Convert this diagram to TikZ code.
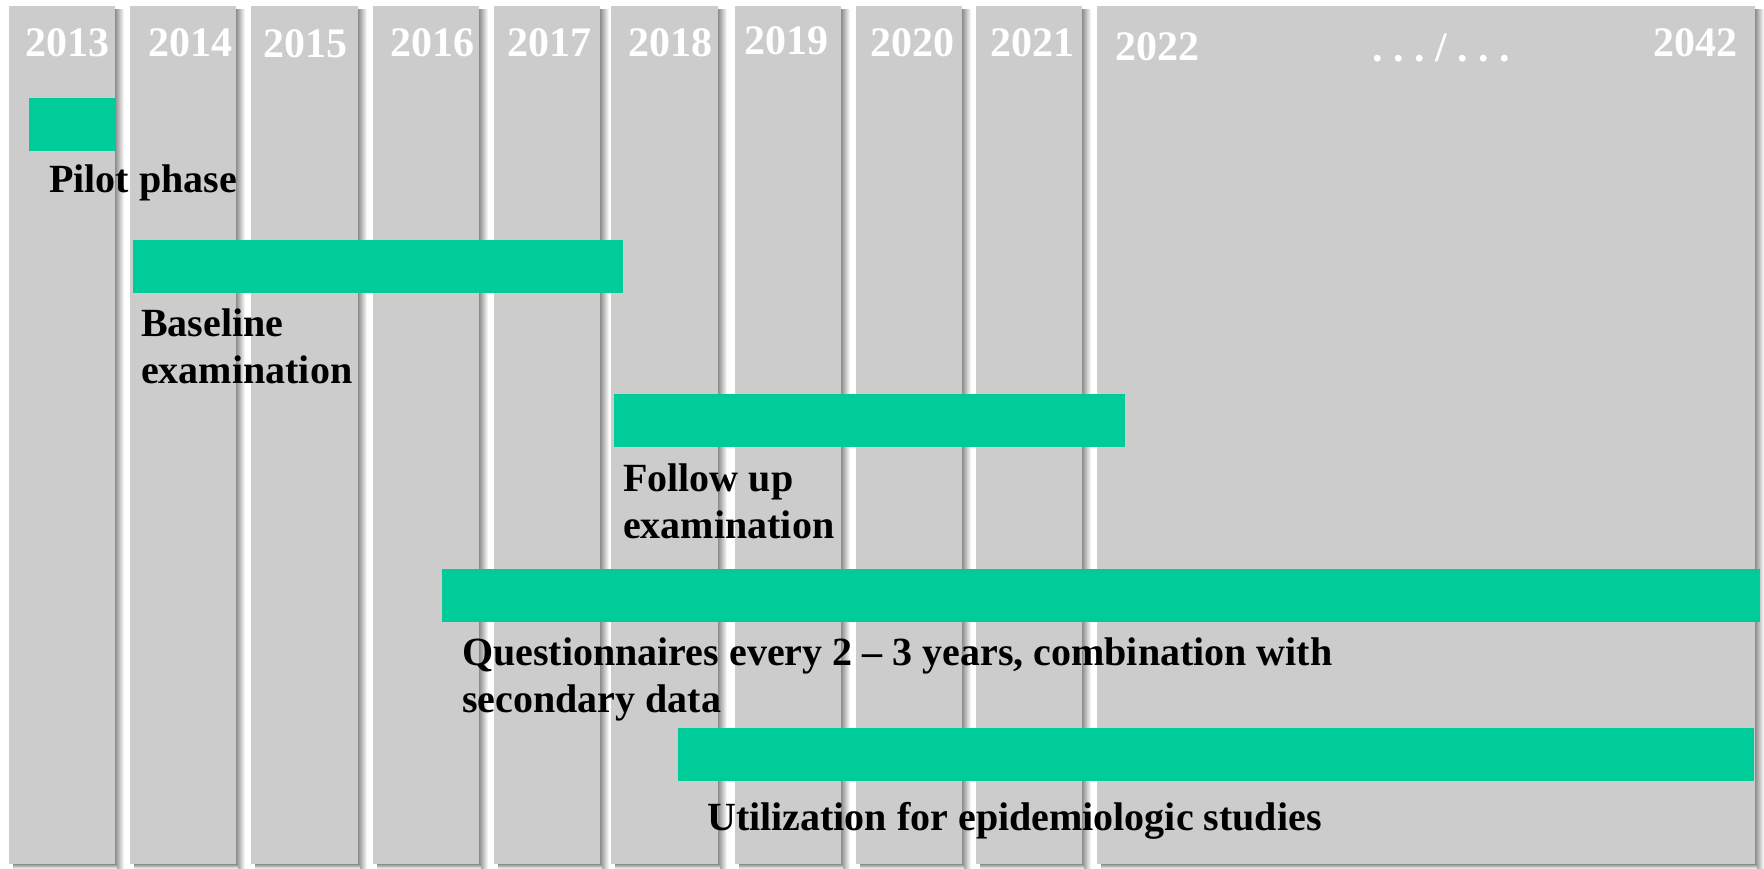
\documentclass[tikz,border=0pt]{standalone}
\usepackage{fontspec}
\setmainfont{Liberation Serif}
\definecolor{colgray}{HTML}{CCCCCC}
\definecolor{shadegray}{HTML}{8C8C8C}
\definecolor{bargreen}{HTML}{00CC99}

\begin{document}
\begin{tikzpicture}[x=1pt,y=-1pt,
  yearcol/.style={fill=colgray},
  sideshade/.style={left color=shadegray, right color=white},
  footshade/.style={top color=shadegray, bottom color=white},
  phasebar/.style={fill=bargreen},
  yearlabel/.style={text=white, font=\fontsize{42}{48}\selectfont\bfseries,
                    inner sep=0pt, anchor=base},
  phaselabel/.style={text=black, font=\fontsize{40}{47}\selectfont\bfseries,
                     inner sep=0pt, anchor=base west, align=left}]

% page
\fill[white] (0,0) rectangle (1764,869);
\useasboundingbox (0,0) rectangle (1764,869);

% one grey column per year, the last one spanning 2022 to 2042,
% each with a soft shadow on its right and bottom edges
\foreach \a/\b in {9/115,130/236,251/358,373/479,494/600,611/718,
                   735/841,856/962,976/1082,1097/1755}{
  \shade[sideshade] (\b,10) rectangle ({\b+9},869);
  \shade[footshade] ({\a+4},864) rectangle ({\b+2},869);
  \path[yearcol] (\a,6) rectangle (\b,864);
}

% year headings
\node[yearlabel] (y2013) at (67,57)   {2013};
\node[yearlabel] (y2014) at (190,57)  {2014};
\node[yearlabel] (y2015) at (305,58)  {2015};
\node[yearlabel] (y2016) at (432,57)  {2016};
\node[yearlabel] (y2017) at (549,57)  {2017};
\node[yearlabel] (y2018) at (670,57)  {2018};
\node[yearlabel] (y2019) at (786,55)  {2019};
\node[yearlabel] (y2020) at (912,57)  {2020};
\node[yearlabel] (y2021) at (1032,57) {2021};
\node[yearlabel] (y2022) at (1157,61) {2022};
\node[yearlabel] (ydots) at (1441,62) {.\ .\ .\ /\ .\ .\ .};
\node[yearlabel] (y2042) at (1695,57) {2042};

% study phases
\fill[phasebar] (29,98)   rectangle (116,151);
\fill[phasebar] (133,240) rectangle (623,293);
\fill[phasebar] (614,394) rectangle (1125,447);
\fill[phasebar] (442,569) rectangle (1760,622);
\fill[phasebar] (678,728) rectangle (1754,781);

% phase captions (base anchor sits on the last line)
\node[phaselabel] (pilot)  at (49,193)  {Pilot phase};
\node[phaselabel] (base)   at (141,383) {Baseline\\examination};
\node[phaselabel] (follow) at (623,538) {Follow up\\examination};
\node[phaselabel] (quest)  at (462,712) {Questionnaires every 2 -- 3 years, combination with\\secondary data};
\node[phaselabel] (util)   at (707,830) {Utilization for epidemiologic studies};
\end{tikzpicture}
\end{document}
